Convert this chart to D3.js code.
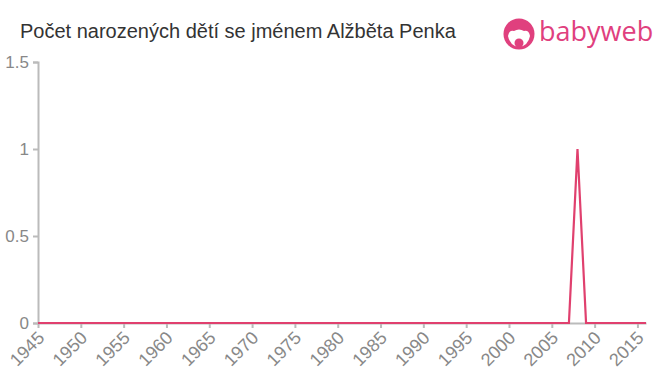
<!DOCTYPE html>
<html><head><meta charset="utf-8">
<script src="https://cdn.jsdelivr.net/npm/d3@7"></script>
<style>body{margin:0;background:#fff;}svg{display:block;font-family:"Liberation Sans",Arial,sans-serif;}</style>
</head><body>
<script>
const years = d3.range(1945, 2017);
const values = years.map(y => y === 2008 ? 1 : 0);
const yTicks = [0, 0.5, 1, 1.5];
const xTicks = d3.range(1945, 2016, 5);
const title = "Počet narozených dětí se jménem Alžběta Penka";

const W = 660, H = 375;
const svg = d3.select("body").append("svg").attr("width", W).attr("height", H);
const x = d3.scaleLinear().domain([1945, 2016]).range([38, 646]);
const y = d3.scaleLinear().domain([0, 1.5]).range([323, 62]);

svg.append("text").attr("x", 20).attr("y", 38).attr("fill", "#333")
  .attr("font-size", "20px").text(title);

// logo
const logo = svg.append("g").attr("transform", "translate(519,34)");
logo.append("circle").attr("r", 15.5).attr("fill", "#e0407e");
logo.append("path").attr("d", "M-11,2 Q-10,-4 -5,-3 Q0,-6 5,-3 Q10,-4 11,2 Q9,12 0,13 Q-9,12 -11,2Z").attr("fill", "#fff");
logo.append("circle").attr("cx", 0).attr("cy", 9).attr("r", 4.5).attr("fill", "#e0407e");
svg.append("text").attr("x", 539).attr("y", 41).attr("fill", "#e0407e")
  .attr("font-size", "27px").style("font-family", "'Open Sans',sans-serif").text("babyweb");

// y axis
const ya = svg.append("g").attr("transform", "translate(38,0)")
  .call(d3.axisLeft(y).tickValues(yTicks).tickFormat(d3.format("")).tickSize(5).tickPadding(4));
ya.attr("font-size", 17).attr("font-family", "Liberation Sans, Arial, sans-serif");
ya.select(".domain").attr("stroke", "#bbb").attr("stroke-width", 2);
ya.selectAll(".tick line").attr("stroke", "#bbb").attr("stroke-width", 2);
ya.selectAll("text").attr("fill", "#888");

// x axis
const xa = svg.append("g").attr("transform", "translate(0,323)")
  .call(d3.axisBottom(x).tickValues(xTicks).tickFormat(d3.format("d")).tickSize(5).tickSizeOuter(0));
xa.attr("font-size", 18).attr("font-family", "Liberation Sans, Arial, sans-serif");
xa.select(".domain").attr("stroke", "#bbb").attr("stroke-width", 2);
xa.selectAll(".tick line").attr("stroke", "#bbb").attr("stroke-width", 2);
xa.selectAll("text").attr("fill", "#888")
  .attr("text-anchor", "end").attr("x", 0).attr("y", 0).attr("dy", 0)
  .attr("transform", "translate(7,16) rotate(-45)");

// line
const line = d3.line().x((d, i) => x(years[i])).y(d => y(d));
svg.append("path").datum(values).attr("d", line).attr("fill", "none")
  .attr("stroke", "#e0406e").attr("stroke-width", 2.2).attr("stroke-linejoin", "miter");
</script>
</body></html>
